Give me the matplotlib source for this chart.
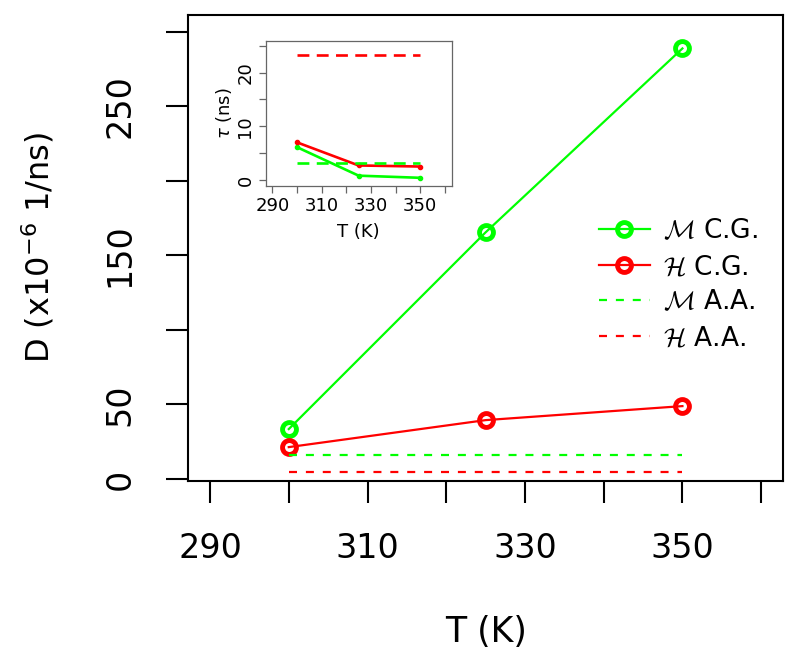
import matplotlib
matplotlib.use('Agg')
import matplotlib.pyplot as plt
from matplotlib.font_manager import FontProperties

# main panel: diffusion coefficient vs temperature
temps = [300, 325, 350]
D_M_cg = [33.5, 165.4, 288.7]
D_H_cg = [21.4, 39.5, 48.9]
D_M_aa = [16.0, 16.0]
D_H_aa = [4.7, 4.7]
aa_span = [300, 350]

# inset: relaxation time tau
tau_M_cg = [6.1, 0.8, 0.4]
tau_H_cg = [7.0, 2.7, 2.5]
tau_M_aa = [3.2, 3.2]
tau_H_aa = [23.2, 23.2]

x_ticks = [290, 300, 310, 320, 330, 340, 350, 360]
x_labels = ['290', '', '310', '', '330', '', '350', '']
y_ticks = [0, 50, 100, 150, 200, 250, 300]
y_labels = ['0', '50', '', '150', '', '250', '']
in_y_ticks = [0, 5, 10, 15, 20, 25]
in_y_labels = ['0', '', '10', '', '20', '']

GREEN = '#00ff00'
RED = '#ff0000'

plt.rcParams['font.family'] = 'DejaVu Sans'

fig = plt.figure(figsize=(8.0, 6.63), dpi=100)
ax = fig.add_axes([0.235, 0.275, 0.744, 0.703])

ax.plot(temps, D_M_cg, '-', color=GREEN, lw=1.6, marker='o', ms=10, mfc='none', mew=3.5,
        label=r'$\mathcal{M}$ C.G.')
ax.plot(temps, D_H_cg, '-', color=RED, lw=1.6, marker='o', ms=10, mfc='none', mew=3.5,
        label=r'$\mathcal{H}$ C.G.')
ax.plot(aa_span, D_M_aa, color=GREEN, lw=1.6, dashes=(3.6, 4.0), label=r'$\mathcal{M}$ A.A.')
ax.plot(aa_span, D_H_aa, color=RED, lw=1.6, dashes=(3.6, 4.0), label=r'$\mathcal{H}$ A.A.')

ax.set_xlim(287.2, 362.8)
ax.set_ylim(-1.1, 311.4)
ax.set_xticks(x_ticks)
ax.set_xticklabels(x_labels)
ax.set_yticks(y_ticks)
ax.set_yticklabels(y_labels, rotation=90, va='center')
ax.tick_params(length=16, width=1.5, labelsize=24, pad=21, direction='out')
for s in ax.spines.values():
    s.set_linewidth(1.5)
ax.set_xlabel('T (K)', fontsize=25, labelpad=36)
ax.set_ylabel(r'D (x10$^{-6}$ 1/ns)', fontsize=23, labelpad=34)

leg_font = FontProperties(family='DejaVu Sans', size=19, math_fontfamily='cm')
ax.legend(loc='upper left', bbox_to_anchor=(588 / 800, 1 - 208 / 663),
          bbox_transform=fig.transFigure, frameon=False, prop=leg_font,
          handlelength=1.95, handletextpad=0.5, labelspacing=0.36, borderaxespad=0)

# inset
ins = fig.add_axes([0.332, 0.72, 0.2325, 0.2187])
ins.plot(temps, tau_M_cg, '-', color=GREEN, lw=1.9, marker='o', ms=3)
ins.plot(temps, tau_H_cg, '-', color=RED, lw=1.9, marker='o', ms=3)
ins.plot(aa_span, tau_M_aa, color=GREEN, lw=1.9, dashes=(4.5, 2.8))
ins.plot(aa_span, tau_H_aa, color=RED, lw=1.9, dashes=(4.5, 2.8))
ins.set_xlim(287.2, 362.8)
ins.set_ylim(-1.06, 25.96)
ins.set_xticks(x_ticks)
ins.set_xticklabels(x_labels)
ins.set_yticks(in_y_ticks)
ins.set_yticklabels(in_y_labels, rotation=90, va='center')
ins.tick_params(length=5, width=0.9, labelsize=13, pad=3, color='#666666', direction='out')
for s in ins.spines.values():
    s.set_linewidth(0.9)
    s.set_color('#666666')
ins.set_xlabel('T (K)', fontsize=13, labelpad=6)
ins.set_ylabel(r'$\tau$ (ns)', fontsize=13, labelpad=2)

fig.savefig('out.png', dpi=100)
